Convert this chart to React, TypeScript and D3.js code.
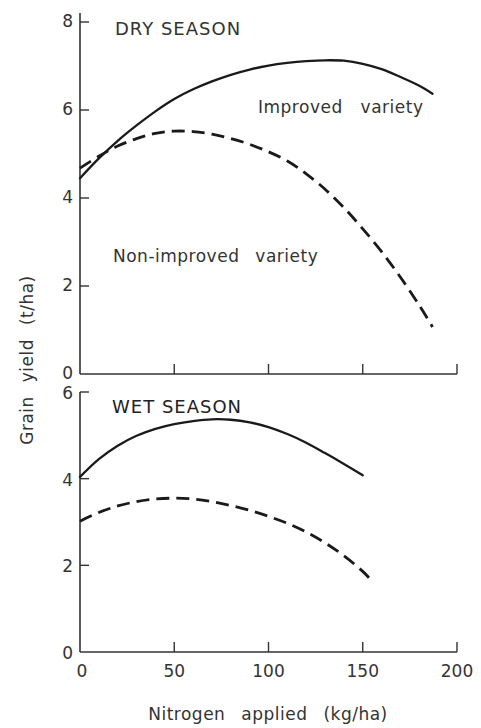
import React from 'react';
import * as d3 from 'd3';

// Nitrogen applied (kg/ha) and grain yield (t/ha)
const dryN = [0, 10, 20, 30, 40, 50, 60, 70, 80, 90, 100, 110, 120, 130, 140, 150, 160, 170, 180, 187];
const dryImproved = [4.45, 4.9, 5.3, 5.65, 5.97, 6.25, 6.47, 6.65, 6.8, 6.92, 7.01, 7.07, 7.11, 7.13, 7.12, 7.05, 6.93, 6.75, 6.55, 6.37];
const dryNonImproved = [4.68, 4.95, 5.18, 5.35, 5.47, 5.52, 5.51, 5.45, 5.35, 5.22, 5.05, 4.84, 4.55, 4.2, 3.78, 3.3, 2.78, 2.2, 1.56, 1.07];

const wetImprovedN = [0, 10, 20, 30, 40, 50, 60, 70, 80, 90, 100, 110, 120, 130, 140, 150];
const wetImproved = [4.04, 4.45, 4.76, 4.99, 5.15, 5.26, 5.33, 5.37, 5.36, 5.3, 5.19, 5.03, 4.83, 4.59, 4.34, 4.08];
const wetNonImprovedN = [0, 10, 20, 30, 40, 50, 60, 70, 80, 90, 100, 110, 120, 130, 140, 150, 154];
const wetNonImproved = [3.02, 3.22, 3.37, 3.47, 3.53, 3.55, 3.53, 3.47, 3.38, 3.27, 3.13, 2.97, 2.77, 2.52, 2.22, 1.86, 1.68];

const xTicks = [0, 50, 100, 150, 200];
const dryYTicks = [0, 2, 4, 6, 8];
const wetYTicks = [0, 2, 4, 6];

const INK = '#333';
const FONT = '"DejaVu Sans", sans-serif';

const x = d3.scaleLinear().domain([0, 200]).range([80, 457]);
const yDry = d3.scaleLinear().domain([0, 8]).range([374, 22]);
const yWet = d3.scaleLinear().domain([0, 6]).range([652, 392]);

const zip = (xs: number[], ys: number[]) => xs.map((n, i) => [n, ys[i]] as [number, number]);

const Panel = ({ y, yTicks, topExtra, labelDy, showXLabels }: { y: d3.ScaleLinear<number, number>; yTicks: number[]; topExtra: number; labelDy: string; showXLabels: boolean }) => {
  const y0 = y(0);
  const yTop = y(yTicks[yTicks.length - 1]) - topExtra;
  return (
    <g>
      <line x1={x(0)} x2={x(0)} y1={y0} y2={yTop} stroke={INK} strokeWidth={1.6} />
      <line x1={x(0)} x2={x(200)} y1={y0} y2={y0} stroke={INK} strokeWidth={1.6} />
      {yTicks.map(t => (
        <g key={'y' + t}>
          {t > 0 && <line x1={x(0)} x2={x(0) + 9} y1={y(t)} y2={y(t)} stroke={INK} strokeWidth={1.4} />}
          <text x={73} y={y(t)} dy={labelDy} textAnchor="end" fontSize={17} fill={INK} fontFamily={FONT}>{t}</text>
        </g>
      ))}
      {xTicks.filter(t => t > 0).map(t => (
        <line key={'x' + t} x1={x(t)} x2={x(t)} y1={y0} y2={y0 - 10} stroke={INK} strokeWidth={1.4} />
      ))}
      {showXLabels && xTicks.map(t => (
        <text key={'xl' + t} x={x(t) + (t === 0 ? 2 : 0)} y={677} textAnchor="middle" fontSize={17} fill={INK} fontFamily={FONT}>{t}</text>
      ))}
    </g>
  );
};

export default function App() {
  const line = (y: d3.ScaleLinear<number, number>) =>
    d3.line<[number, number]>().x(d => x(d[0])).y(d => y(d[1])).curve(d3.curveCatmullRom.alpha(0.5));

  const solid = { fill: 'none', stroke: '#1a1a1a', strokeWidth: 2.3, strokeLinecap: 'round' as const };
  const dashed = { fill: 'none', stroke: '#1a1a1a', strokeWidth: 2.8, strokeDasharray: '13 7' };

  return (
    <svg width={481} height={728} style={{ position: 'absolute', left: 0, top: 0, background: '#fff' }}>
      <Panel y={yDry} yTicks={dryYTicks} topExtra={9} labelDy="0.3em" showXLabels={false} />
      <Panel y={yWet} yTicks={wetYTicks} topExtra={0} labelDy="0.42em" showXLabels={true} />

      <path d={line(yDry)(zip(dryN, dryImproved)) || ''} {...solid} />
      <path d={line(yDry)(zip(dryN, dryNonImproved)) || ''} {...dashed} />
      <path d={line(yWet)(zip(wetImprovedN, wetImproved)) || ''} {...solid} />
      <path d={line(yWet)(zip(wetNonImprovedN, wetNonImproved)) || ''} {...dashed} />

      <text x={115} y={35} fontSize={18} letterSpacing={1} fill={INK} fontFamily={FONT}>DRY SEASON</text>
      <text x={112} y={413} fontSize={18} letterSpacing={1} fill="#222" fontFamily={FONT}>WET SEASON</text>
      <text x={258} y={113} fontSize={17} letterSpacing={0.5} wordSpacing={12} fill={INK} fontFamily={FONT}>Improved variety</text>
      <text x={113} y={262} fontSize={17} letterSpacing={0.5} wordSpacing={10} fill={INK} fontFamily={FONT}>Non-improved variety</text>

      <text transform="translate(33,360) rotate(-90)" textAnchor="middle" fontSize={17} letterSpacing={0.5} wordSpacing={8} fill={INK} fontFamily={FONT}>Grain yield (t/ha)</text>
      <text x={268} y={720} textAnchor="middle" fontSize={17} letterSpacing={0.5} wordSpacing={10} fill={INK} fontFamily={FONT}>Nitrogen applied (kg/ha)</text>
    </svg>
  );
}
